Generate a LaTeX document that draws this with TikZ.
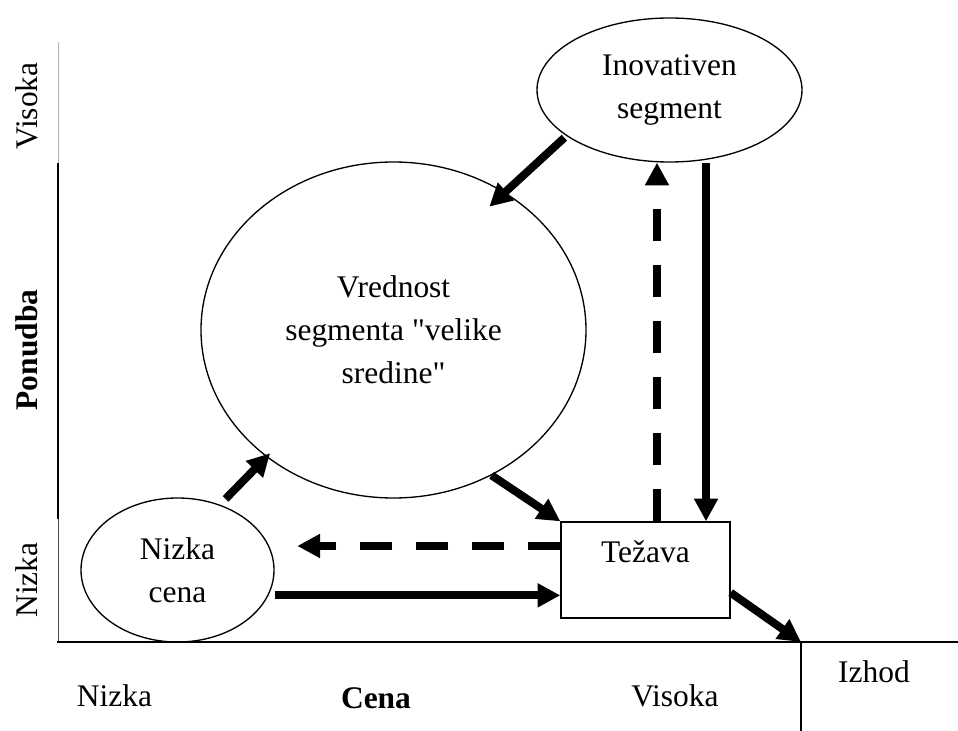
\documentclass[tikz,border=0pt]{standalone}
\usepackage{fontspec}
\setmainfont{Liberation Serif}[Ligatures=TeXOff]
\usetikzlibrary{arrows.meta,shapes.geometric,positioning}

\begin{document}
\begin{tikzpicture}[x=0.75pt,y=-0.75pt,
    every node/.style={font=\fontsize{23.6}{32.3}\selectfont, inner sep=0pt},
    seg/.style={ellipse,draw,line width=1pt,align=center},
    arr/.style={line width=6pt,-{Triangle[length=17pt,width=17pt]}},
    darr/.style={arr,dash pattern=on 24pt off 18pt},
    axis/.style={line width=1pt}]
    \useasboundingbox (0,0) rectangle (958,731);
    % segments
    \node[seg, minimum width=198.75pt, minimum height=108pt] (inov) at (669.5,90) {Inovativen\\segment};
    \node[seg, minimum width=288.75pt, minimum height=252pt] (mid) at (393.5,330) {Vrednost\\segmenta "velike\\sredine"};
    \node[seg, minimum width=144.75pt, minimum height=108pt] (lowcost) at (177.5,570) {Nizka\\cena};
    \node[draw, line width=1pt, minimum width=126.75pt, text height=30pt, text depth=42pt] (issue) at (645.5,570) {Težava};
    % axes
    \draw[gray!60, line width=0.6pt] (58,42) -- (58,163);
    \draw[line width=1.6pt] (58,163) -- (58,519);
    \draw[black!70, line width=0.6pt] (58,519) -- (58,642);
    \draw[axis] (57,642) -- (958,642);
    \draw[axis] (801,642) -- (801,731);
    \coordinate (exitpt) at (801,642);
    % axis labels
    \node[rotate=90, anchor=base] (vhigh) at (37,106) {Visoka};
    \node[rotate=90, anchor=base] (supply) at (37,350) {\textbf{Ponudba}};
    \node[rotate=90, anchor=base] (vlow) at (37,580) {Nizka};
    \node[anchor=base] (hlow) at (114.5,706) {Nizka};
    \node[anchor=base] (price) at (376,708) {\textbf{Cena}};
    \node[anchor=base] (hhigh) at (675,706) {Visoka};
    \node[anchor=base] (exitlbl) at (874,682) {Izhod};
    % flows
    \draw[arr, shorten <=2pt, shorten >=-16pt] (inov.204) -- (mid.51);
    \draw[arr, shorten <=6pt, shorten >=-4pt] (lowcost.57) -- (mid.225);
    \draw[arr] (mid.-56) -- (issue.north west);
    \draw[darr, shorten >=17pt] ([yshift=18pt]issue.west) -- ([yshift=18pt]lowcost.east);
    \draw[arr] ([yshift=-19pt]lowcost.east) -- ([yshift=-19pt]issue.west);
    \draw[darr] ([xshift=8.6pt]issue.north) -- ([xshift=-9.4pt]inov.south);
    \draw[arr] ([xshift=27.4pt]inov.south) -- ([xshift=45.4pt]issue.north);
    \draw[arr] ([yshift=-17pt]issue.east) -- (exitpt);
\end{tikzpicture}
\end{document}
